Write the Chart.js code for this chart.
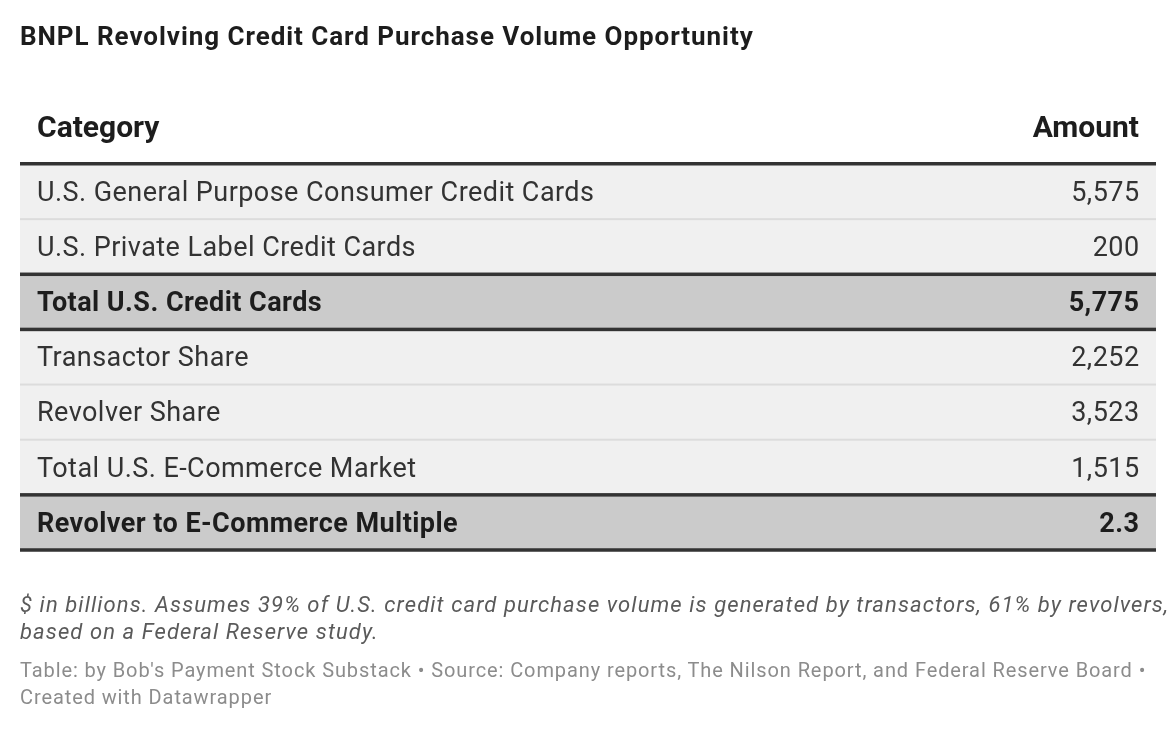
<!DOCTYPE html>
<html>
<head>
<meta charset="utf-8">
<script src="https://cdn.jsdelivr.net/npm/chart.js@4"></script>
<style>
  body { margin: 0; background: #fff; font-family: Roboto, sans-serif; }
  #wrap { position: relative; width: 1176px; height: 730px; }
  #table { position: absolute; left: 0; top: 0; }
  .title { position: absolute; left: 20px; top: 21px; font-size: 26px; letter-spacing: 0.95px; font-weight: 700; color: #1d1d1d; white-space: nowrap; }
  .notes { position: absolute; left: 20px; top: 591px; font-size: 22px; letter-spacing: 1.1px; font-style: italic; color: #5a5a5a; line-height: 27px; white-space: nowrap; }
  .source { position: absolute; left: 20px; top: 657px; font-size: 20px; letter-spacing: 0.9px; color: #8c8c8c; line-height: 27px; white-space: nowrap; }
</style>
</head>
<body>
<div id="wrap">
  <canvas id="table" width="1176" height="730"></canvas>
  <div class="title">BNPL Revolving Credit Card Purchase Volume Opportunity</div>
  <div class="notes">$ in billions. Assumes 39% of U.S. credit card purchase volume is generated by transactors, 61% by revolvers,<br>based on a Federal Reserve study.</div>
  <div class="source">Table: by Bob's Payment Stock Substack • Source: Company reports, The Nilson Report, and Federal Reserve Board •<br>Created with Datawrapper</div>
</div>
<script>
const headers = ['Category', 'Amount']

const categories = [
    'U.S. General Purpose Consumer Credit Cards',
    'U.S. Private Label Credit Cards',
    'Total U.S. Credit Cards',
    'Transactor Share',
    'Revolver Share',
    'Total U.S. E-Commerce Market',
    'Revolver to E-Commerce Multiple'
]

const amounts = [5575, 200, 5775, 2252, 3523, 1515, 2.3]

// rows shown in bold with a darker band
const totalRows = [false, false, true, false, false, false, true]

const canvas = document.querySelector('#table')
const ctx = canvas.getContext('2d')

const cellText = {
    id: 'cellText',
    afterDatasetsDraw(chart) {
        const { ctx, chartArea, scales } = chart
        const y = scales.y
        const left = chartArea.left
        const right = chartArea.right
        const edge = i => (y.getPixelForValue(i) + y.getPixelForValue(i + 1)) / 2

        ctx.save()

        // header
        ctx.fillStyle = '#1d1d1d'
        ctx.font = 'bold 30px Roboto'
        ctx.textBaseline = 'alphabetic'
        ctx.textAlign = 'left'
        ctx.fillText(headers[0], left + 17, 137)
        ctx.textAlign = 'right'
        ctx.fillText(headers[1], right - 17, 137)

        // thin separators
        ctx.fillStyle = '#dcdcdc'
        for (let i = 0; i < categories.length - 1; i++) {
            if (!totalRows[i] && !totalRows[i + 1]) {
                ctx.fillRect(left, edge(i) - 1, right - left, 2)
            }
        }

        // thick separators
        ctx.fillStyle = '#333333'
        ctx.fillRect(left, chartArea.top - 2, right - left, 3.5)
        for (let i = 0; i < categories.length - 1; i++) {
            if (totalRows[i] || totalRows[i + 1]) {
                ctx.fillRect(left, edge(i) - 1.75, right - left, 3.5)
            }
        }
        ctx.fillRect(left, chartArea.bottom - 1.75, right - left, 3.5)

        // cells
        ctx.letterSpacing = '0.45px'
        categories.forEach((label, i) => {
            const cy = y.getPixelForValue(i) + 9.3
            ctx.fillStyle = totalRows[i] ? '#1d1d1d' : '#333333'
            ctx.font = (totalRows[i] ? 'bold ' : '') + '27px Roboto'
            ctx.textAlign = 'left'
            ctx.fillText(label, left + 17, cy)
            ctx.textAlign = 'right'
            ctx.fillText(amounts[i].toLocaleString('en-US'), right - 16.5, cy)
        })

        ctx.restore()
    }
}

new Chart(ctx, {
    type: 'bar',
    data: {
        labels: categories,
        datasets: [{
            data: categories.map(() => [0, 1]),
            backgroundColor: totalRows.map(t => t ? '#cbcbcb' : '#f0f0f0'),
            borderWidth: 0,
            barPercentage: 1,
            categoryPercentage: 1
        }]
    },
    options: {
        indexAxis: 'y',
        responsive: false,
        animation: false,
        layout: { padding: { left: 20, right: 20, top: 164, bottom: 180 } },
        scales: {
            x: { display: false, min: 0, max: 1 },
            y: { display: false }
        },
        plugins: {
            legend: { display: false },
            tooltip: { enabled: false }
        }
    },
    plugins: [cellText]
})
</script>
</body>
</html>
